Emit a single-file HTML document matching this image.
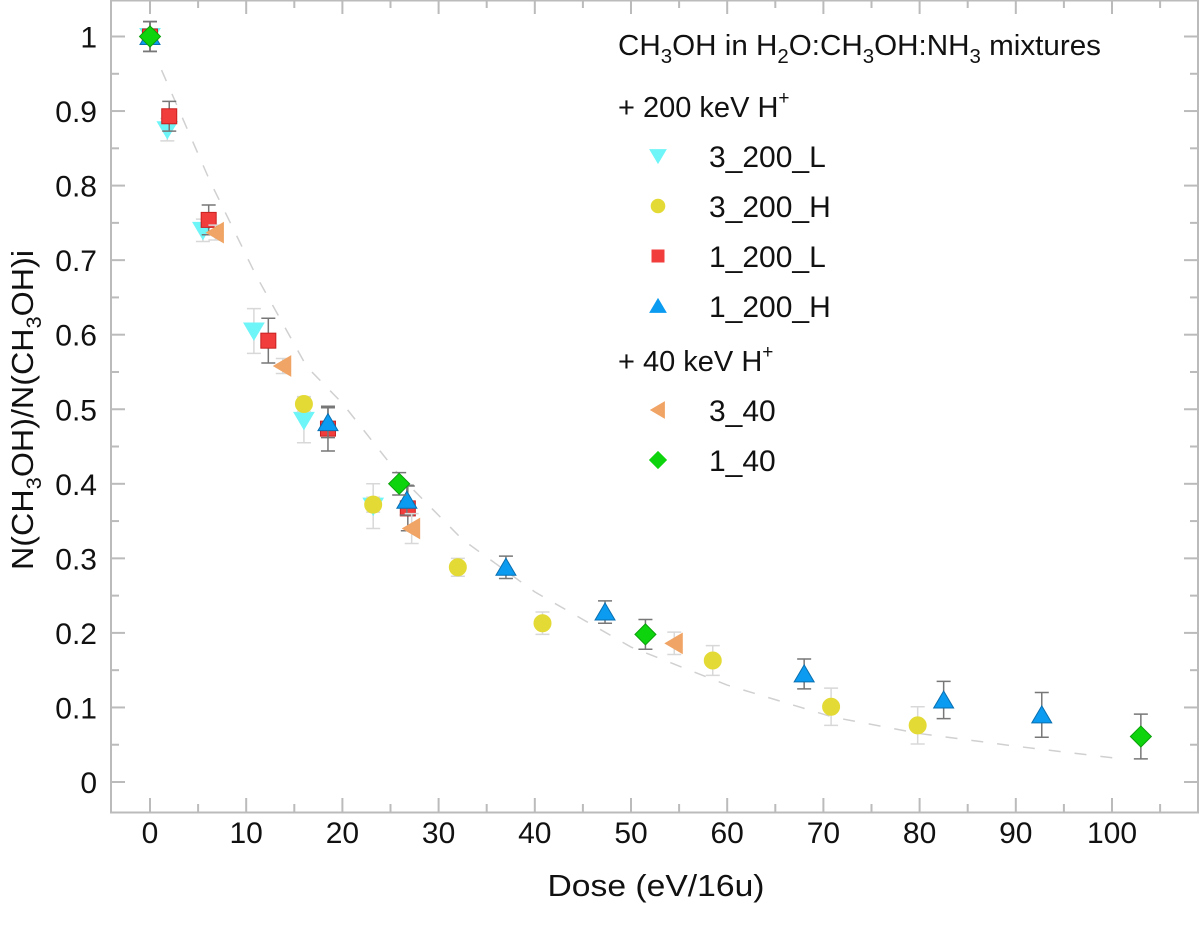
<!DOCTYPE html>
<html><head><meta charset="utf-8"><style>
html,body{margin:0;padding:0;background:#fff;}
svg{display:block;font-family:"Liberation Sans",sans-serif;}
</style></head><body>
<svg id="chart" width="1200" height="928" viewBox="0 0 1200 928">
<g id="axes"></g>
<g id="fit"></g>
<g id="marks"></g>
<g id="legend"></g>
<text x="656" y="896" font-size="31" text-anchor="middle" fill="#111" textLength="217" lengthAdjust="spacingAndGlyphs">Dose (eV/16u)</text>
<text transform="translate(33,410) rotate(-90)" font-size="31" text-anchor="middle" fill="#111" textLength="320" lengthAdjust="spacingAndGlyphs">N(CH<tspan font-size="21" dy="8">3</tspan><tspan dy="-8">OH)/N(CH</tspan><tspan font-size="21" dy="8">3</tspan><tspan dy="-8">OH)i</tspan></text>
</svg>
<script>
const xTicks=[0,10,20,30,40,50,60,70,80,90,100];
const yTicks=[0,0.1,0.2,0.3,0.4,0.5,0.6,0.7,0.8,0.9,1];
const yTickLabels=["0","0.1","0.2","0.3","0.4","0.5","0.6","0.7","0.8","0.9","1"];
const s1x=[0,1.8,5.5,10.8,16,23.2];
const s1y=[1,0.875,0.74,0.605,0.485,0.37];
const s1e=[0.02,0.015,0.015,0.03,0.03,0.03];
const s2x=[0,16,23.2,32,40.8,58.5,70.8,79.8];
const s2y=[1,0.507,0.372,0.288,0.213,0.163,0.101,0.076];
const s2e=[0.02,0.01,0.01,0.012,0.015,0.02,0.025,0.025];
const s3x=[0,2,6.1,12.3,18.5,26.8];
const s3y=[1,0.893,0.754,0.592,0.474,0.367];
const s3e=[0.02,0.02,0.02,0.03,0.03,0.03];
const s4x=[0,18.5,26.7,37,47.3,68,82.5,92.7];
const s4y=[1,0.482,0.378,0.288,0.228,0.145,0.11,0.09];
const s4e=[0.02,0.02,0.02,0.015,0.015,0.02,0.025,0.03];
const s5x=[6.8,13.8,27.2,54.5];
const s5y=[0.737,0.558,0.34,0.186];
const s5e=[0.01,0.01,0.02,0.015];
const s6x=[0,25.9,51.5,103];
const s6y=[1,0.4,0.198,0.061];
const s6e=[0.02,0.015,0.02,0.03];
const fitX=[1.2,6.2,11,16.3,20,26,32.5,40,50,60,71,80,90,101];
const fitY=[0.955,0.807,0.68,0.557,0.508,0.41,0.325,0.255,0.181,0.13,0.087,0.065,0.048,0.031];

const NS="http://www.w3.org/2000/svg";
const L=111,R=1198,T=0,B=812;
const X=d=>150+9.62*d;
const Y=v=>782-745.5*v;
function mk(tag,attrs,parent){const e=document.createElementNS(NS,tag);for(const k in attrs)e.setAttribute(k,attrs[k]);parent.appendChild(e);return e;}
const ax=document.getElementById('axes');
const frame=mk('rect',{x:L,y:T+0.5,width:R-L,height:B-T,fill:'none',stroke:'#bbb','stroke-width':2},ax);


for(let d=0;d<=105;d+=5){
  const len=(d%10===0)?14:8;
  const a=mk('line',{x1:X(d),x2:X(d),y1:B,y2:B-len,stroke:'#bbb','stroke-width':2},ax);
  
  
  const b=mk('line',{x1:X(d),x2:X(d),y1:T,y2:T+len,stroke:'#bbb','stroke-width':2},ax);
  
  
}
for(let i=-1;i<=21;i++){
  const v=i*0.05;const y=Y(v);if(y<T||y>B)continue;
  const len=(i%2===0)?14:8;
  const a=mk('line',{x1:L,x2:L+len,y1:y,y2:y,stroke:'#bbb','stroke-width':2},ax);
  
  
  const b=mk('line',{x1:R,x2:R-len,y1:y,y2:y,stroke:'#bbb','stroke-width':2},ax);
  
  
}
xTicks.forEach(d=>{
  const t=mk('text',{x:X(d),y:843,'font-size':30,'text-anchor':'middle',fill:'#111'},ax);t.textContent=String(d);
  
  
});
yTicks.forEach((v,i)=>{
  const t=mk('text',{x:97,y:Y(v)+11,'font-size':30,'text-anchor':'end',fill:'#111'},ax);t.textContent=yTickLabels[i];
  
  
});
// fit
const fg=document.getElementById('fit');
const fp=mk('polyline',{points:fitX.map((d,i)=>X(d)+','+Y(fitY[i])).join(' '),fill:'none',stroke:'#d0d0d0','stroke-width':1.5,'stroke-dasharray':'12 14'},fg);



function marker(type,cx,cy,fill,stroke,parent,sz){
  sz=sz||10;let e;
  if(type==='down')e=mk('polygon',{points:`${cx-sz},${cy-sz*0.8} ${cx+sz},${cy-sz*0.8} ${cx},${cy+sz*0.9}`},parent);
  else if(type==='up')e=mk('polygon',{points:`${cx-sz},${cy+sz*0.8} ${cx+sz},${cy+sz*0.8} ${cx},${cy-sz*0.9}`},parent);
  else if(type==='left')e=mk('polygon',{points:`${cx+sz*0.8},${cy-sz} ${cx+sz*0.8},${cy+sz} ${cx-sz*0.9},${cy}`},parent);
  else if(type==='circle')e=mk('circle',{cx:cx,cy:cy,r:sz*0.85},parent);
  else if(type==='square')e=mk('rect',{x:cx-sz*0.75,y:cy-sz*0.75,width:sz*1.5,height:sz*1.5},parent);
  else e=mk('polygon',{points:`${cx},${cy-sz*1.05} ${cx+sz*1.05},${cy} ${cx},${cy+sz*1.05} ${cx-sz*1.05},${cy}`},parent);
  e.setAttribute('fill',fill);e.setAttribute('stroke',stroke);e.setAttribute('stroke-width',1);
  return e;
}
const series=[
 {name:'3_200_L',xs:s1x,ys:s1y,es:s1e,type:'down',fill:'#6ef5f8',stroke:'#6ef5f8',eb:'#d8d8d8'},
 {name:'3_200_H',xs:s2x,ys:s2y,es:s2e,type:'circle',fill:'#e3da35',stroke:'#e3da35',eb:'#d8d8d8'},
 {name:'1_200_L',xs:s3x,ys:s3y,es:s3e,type:'square',fill:'#f23d3d',stroke:'#c82020',eb:'#777'},
 {name:'1_200_H',xs:s4x,ys:s4y,es:s4e,type:'up',fill:'#0b9bf0',stroke:'#0a6fb0',eb:'#777'},
 {name:'3_40',xs:s5x,ys:s5y,es:s5e,type:'left',fill:'#f0a465',stroke:'#f0a465',eb:'#d8d8d8'},
 {name:'1_40',xs:s6x,ys:s6y,es:s6e,type:'diamond',fill:'#0ed40e',stroke:'#0ba00b',eb:'#777'}
];
const mg=document.getElementById('marks');
series.forEach(s=>{
  const g=mk('g',{},mg);
  
  
  s.xs.forEach((d,i)=>{
    const cx=X(d),cy=Y(s.ys[i]),y1=Y(s.ys[i]+s.es[i]),y2=Y(s.ys[i]-s.es[i]);
    const eb=mk('path',{d:`M${cx},${y1}V${y2}M${cx-7},${y1}H${cx+7}M${cx-7},${y2}H${cx+7}`,stroke:s.eb,'stroke-width':1.5,fill:'none'},g);
    
    
    const m=marker(s.type,cx,cy,s.fill,s.stroke,g,10);
    
    
  });
});
// legend
const lg=document.getElementById('legend');
const title=mk('text',{x:618,y:55,'font-size':29,fill:'#111',textLength:483,lengthAdjust:'spacingAndGlyphs'},lg);
title.innerHTML='CH<tspan font-size="20" dy="8">3</tspan><tspan dy="-8">OH in H</tspan><tspan font-size="20" dy="8">2</tspan><tspan dy="-8">O:CH</tspan><tspan font-size="20" dy="8">3</tspan><tspan dy="-8">OH:NH</tspan><tspan font-size="20" dy="8">3</tspan><tspan dy="-8"> mixtures</tspan>';


const h1=mk('text',{x:618,y:117,'font-size':29,fill:'#111'},lg);
h1.innerHTML='+ 200 keV H<tspan font-size="19" dy="-13">+</tspan>';


const h2=mk('text',{x:618,y:371,'font-size':29,fill:'#111'},lg);
h2.innerHTML='+ 40 keV H<tspan font-size="19" dy="-13">+</tspan>';


const ly=[156,206,256,306,410,460];
series.forEach((s,i)=>{
  const g=mk('g',{},lg);
  
  
  marker(s.type,658,ly[i],s.fill,s.fill,g,8);
  const t=mk('text',{x:709,y:ly[i]+11,'font-size':30,fill:'#111'},g);t.textContent=s.name;
});
</script>
</body></html>
